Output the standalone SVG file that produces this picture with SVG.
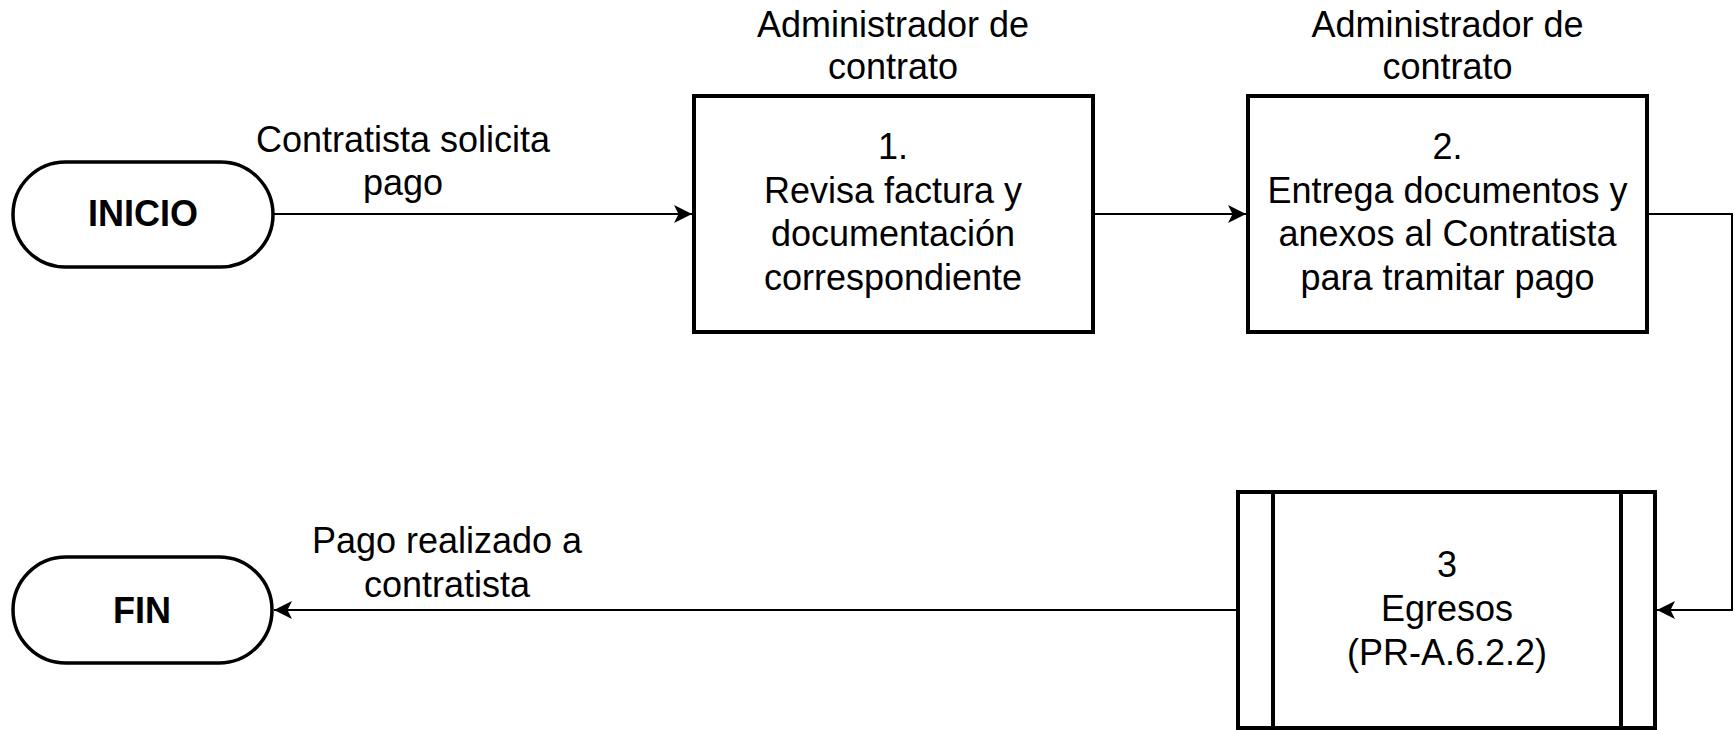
<svg xmlns="http://www.w3.org/2000/svg" width="1735" height="730" viewBox="0 0 1735 730">
  <style>
    .box { fill: #ffffff; stroke: #000000; stroke-width: 4; }
    .term { fill: #ffffff; stroke: #000000; stroke-width: 3.5; }
    .line { fill: none; stroke: #000000; stroke-width: 2; }
    .conn { fill: none; stroke: #000000; stroke-width: 2; marker-end: url(#arrow); }
    text { font-family: "Liberation Sans", Arial, sans-serif; font-size: 36px; fill: #000000; text-anchor: middle; }
    .bold { font-weight: bold; }
  </style>
  <defs>
    <marker id="arrow" markerUnits="userSpaceOnUse" markerWidth="19" markerHeight="19" refX="18" refY="9" orient="auto">
      <path d="M0,0 L18,9 L0,18 L4.5,9 Z" fill="#000000"/>
    </marker>
  </defs>
  <rect x="0" y="0" width="1735" height="730" fill="#ffffff"/>

  <g id="connectors">
    <path class="conn" d="M273,214 L692,214"/>
    <path class="conn" d="M1093,214 L1246,214"/>
    <path class="conn" d="M1647,214 L1732,214 L1732,610 L1657,610"/>
    <path class="conn" d="M1237,610 L274,610"/>
    <text x="403" y="152">Contratista solicita</text>
    <text x="403" y="195">pago</text>
    <text x="447" y="553">Pago realizado a</text>
    <text x="447" y="597">contratista</text>
  </g>

  <g id="inicio">
    <rect class="term" x="13" y="162" width="260" height="105" rx="52.5" ry="52.5"/>
    <text class="bold" x="143" y="226">INICIO</text>
  </g>

  <g id="paso1">
    <text x="893" y="37">Administrador de</text>
    <text x="893" y="79">contrato</text>
    <rect class="box" x="694" y="96" width="399" height="236"/>
    <text x="893" y="159">1.</text>
    <text x="893" y="203">Revisa factura y</text>
    <text x="893" y="246">documentación</text>
    <text x="893" y="290">correspondiente</text>
  </g>

  <g id="paso2">
    <text x="1447.5" y="37">Administrador de</text>
    <text x="1447.5" y="79">contrato</text>
    <rect class="box" x="1248" y="96" width="399" height="236"/>
    <text x="1447.5" y="159">2.</text>
    <text x="1447.5" y="203">Entrega documentos y</text>
    <text x="1447.5" y="246">anexos al Contratista</text>
    <text x="1447.5" y="290">para tramitar pago</text>
  </g>

  <g id="paso3">
    <rect class="box" x="1238" y="492" width="417" height="236"/>
    <line x1="1273" y1="492" x2="1273" y2="728" stroke="#000000" stroke-width="4"/>
    <line x1="1621" y1="492" x2="1621" y2="728" stroke="#000000" stroke-width="4"/>
    <text x="1447" y="577">3</text>
    <text x="1447" y="621">Egresos</text>
    <text x="1447" y="665">(PR-A.6.2.2)</text>
  </g>

  <g id="fin">
    <rect class="term" x="13" y="557" width="259" height="106" rx="53" ry="53"/>
    <text class="bold" x="142" y="623">FIN</text>
  </g>
</svg>
